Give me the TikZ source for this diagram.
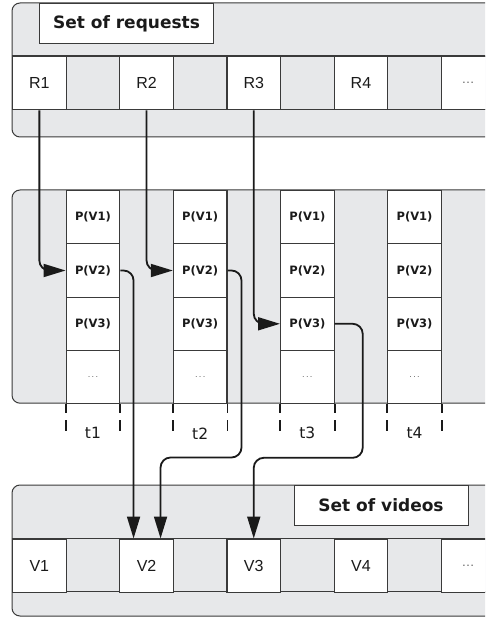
\documentclass[tikz,border=0pt]{standalone}
\usepackage{fontspec}
\setmainfont{DejaVu Sans}
\newfontfamily\cellfont{Liberation Sans}
\usetikzlibrary{arrows.meta}

\definecolor{panelgray}{HTML}{E7E8EA}
\definecolor{edgegray}{HTML}{3A3A3A}
\definecolor{inkblack}{HTML}{1A1A1A}

\begin{document}
\begin{tikzpicture}[x=1pt,y=-1pt,
  panel/.style={draw=edgegray, fill=panelgray, line width=1pt, rounded corners=8pt},
  titlebox/.style={draw=edgegray, fill=white, line width=1pt, inner sep=0pt,
    minimum width=174pt, minimum height=40pt, anchor=north west,
    font=\fontsize{17}{17}\selectfont\bfseries, text=inkblack},
  rowline/.style={draw=edgegray, line width=1.1pt},
  cell/.style={draw=edgegray, fill=white, line width=1.1pt, inner sep=0pt,
    minimum width=53.6pt, minimum height=53.3pt, anchor=north west,
    font=\cellfont\fontsize{16}{16}\selectfont, text=inkblack},
  pcell/.style={cell, font=\bfseries\fontsize{11.5}{11.5}\selectfont},
  dotstext/.style={font=\cellfont\fontsize{13}{13}\selectfont, text=black!60},
  tick/.style={draw=inkblack, line width=1.8pt},
  tlabel/.style={font=\fontsize{15.5}{15.5}\selectfont, text=inkblack},
  flow/.style={draw=inkblack, line width=1.8pt, rounded corners=10pt,
    -{Triangle[length=22pt,width=13pt]}},
]
\useasboundingbox (0,0) rectangle (485,617);
\clip (0,0) rectangle (485,617);

% ---------- requests panel ----------
\draw[panel] (12,3) rectangle (530,137);
\node[titlebox] (reqtitle) at (39,3) {Set of requests};
\draw[rowline] (12,56) -- (530,56);
\draw[rowline] (12,109.3) -- (530,109.3);
\node[cell] (R1) at (12+0*53.6,56) {R1};
\node[cell] (R2) at (12+2*53.6,56) {R2};
\node[cell] (R3) at (12+4*53.6,56) {R3};
\node[cell] (R4) at (12+6*53.6,56) {R4};
\node[cell,dotstext] (Rd) at (12+8*53.6,56) {\dots};

% ---------- time-slot panel ----------
\draw[panel] (12,190) rectangle (530,403.2);
\foreach \c/\k in {1/1,3/2,5/3,7/4}{
  \node[pcell] (p\c0) at (12+\c*53.6,190+0*53.3) {P(V1)};
  \node[pcell] (p\c1) at (12+\c*53.6,190+1*53.3) {P(V2)};
  \node[pcell] (p\c2) at (12+\c*53.6,190+2*53.3) {P(V3)};
  \node[pcell,font=\fontsize{8}{8}\selectfont,text=black!60] (p\c3) at (12+\c*53.6,190+3*53.3) {.\,.\,.};
  \draw[tick] (p\c3.south west) -- ++(0,9);
  \draw[tick] ([yshift=-16pt]p\c3.south west) -- ++(0,11);
  \draw[tick] (p\c3.south east) -- ++(0,9);
  \draw[tick] ([yshift=-16pt]p\c3.south east) -- ++(0,11);
  \node[tlabel] (t\k) at ([yshift=-29pt]p\c3.south) {t\k};
}

% ---------- videos panel ----------
\draw[panel] (12,485) rectangle (530,616);
\node[titlebox] (vidtitle) at (293.5,485) {Set of videos};
\draw[rowline] (12,538.5) -- (530,538.5);
\draw[rowline] (12,591.8) -- (530,591.8);
\node[cell] (V1) at (12+0*53.6,538.5) {V1};
\node[cell] (V2) at (12+2*53.6,538.5) {V2};
\node[cell] (V3) at (12+4*53.6,538.5) {V3};
\node[cell] (V4) at (12+6*53.6,538.5) {V4};
\node[cell,dotstext] (Vd) at (12+8*53.6,538.5) {\dots};

% ---------- request to slot ----------
\draw[flow] (R1.south) |- (p11.west);
\draw[flow] (R2.south) |- (p31.west);
\draw[flow] (R3.south) |- (p52.west);

% ---------- slot to video ----------
\draw[flow] (p11.east) -| ([xshift=-13pt]V2.north);
\draw[flow] (p31.east) -| ++(14,187) -| ([xshift=14pt]V2.north);
\draw[flow] (p52.east) -| ++(28,134) -| (V3.north);
\end{tikzpicture}
\end{document}
